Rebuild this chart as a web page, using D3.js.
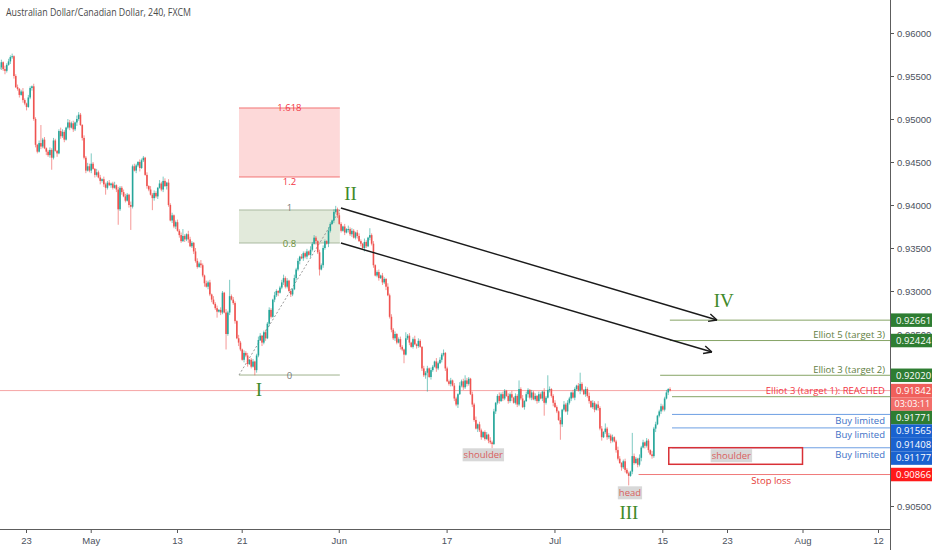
<!DOCTYPE html>
<head>
<meta charset="utf-8">
<style>
body { margin: 0; background: #fff; }
svg { display: block; font-family: "Open Sans", sans-serif; }
.tick text { fill: #4c525e; font-size: 9.5px; }
.tick line { stroke: #555; }
</style>
</head>
<body>
<div class="chart"></div>

<script src="https://d3js.org/d3.v7.min.js"></script>
<script>
// AUD/CAD 4h closes in pips (x 0.0001), Apr 18 -> Jul 16
const closes = [
    9560, 9566, 9558, 9556, 9563, 9567, 9572, 9573, 9550, 9537,
    9535, 9528, 9532, 9522, 9518, 9514, 9525, 9536, 9538, 9500,
    9470, 9462, 9472, 9468, 9476, 9466, 9462, 9458, 9464, 9455,
    9475, 9463, 9460, 9486, 9480, 9485, 9476, 9490, 9496, 9490,
    9495, 9488, 9496, 9500, 9505, 9493, 9478, 9455, 9440, 9445,
    9440, 9448, 9442, 9435, 9438, 9432, 9428, 9430, 9424, 9420,
    9426, 9423, 9425, 9420, 9423, 9418, 9395, 9420, 9415, 9410,
    9405, 9412, 9400, 9398, 9445, 9440, 9446, 9450, 9443, 9452,
    9455, 9435, 9422, 9418, 9412, 9408, 9414, 9410, 9420, 9425,
    9418, 9428, 9422, 9426, 9400, 9382, 9388, 9375, 9380, 9370,
    9365, 9358, 9364, 9360, 9366, 9360, 9352, 9356, 9346, 9335,
    9328, 9332, 9330, 9318, 9309, 9305, 9310, 9296, 9290, 9285,
    9280, 9276, 9278, 9275, 9298, 9275, 9250, 9275, 9294, 9290,
    9286, 9265, 9245, 9240, 9232, 9220, 9228, 9225, 9215, 9220,
    9212, 9218, 9208, 9225, 9243, 9248, 9240, 9252, 9245, 9262,
    9278, 9270, 9290, 9295, 9300, 9298, 9304, 9310, 9315, 9305,
    9312, 9300, 9296, 9302, 9315, 9325, 9335, 9340, 9338, 9344,
    9340, 9346, 9342, 9348, 9355, 9362, 9358, 9345, 9325, 9330,
    9350, 9358, 9355, 9370, 9378, 9382, 9392, 9395, 9388, 9378,
    9370, 9375, 9368, 9372, 9372, 9366, 9370, 9362, 9368, 9364,
    9358, 9355, 9350, 9357, 9352, 9362, 9365, 9355, 9330, 9318,
    9322, 9315, 9318, 9310, 9314, 9305, 9295, 9270, 9255, 9245,
    9250, 9240, 9244, 9235, 9232, 9226, 9245, 9248, 9240, 9235,
    9244, 9238, 9236, 9242, 9235, 9210, 9202, 9205, 9210, 9200,
    9208, 9212, 9218, 9210, 9216, 9220, 9226, 9228, 9210, 9195,
    9192, 9196, 9190, 9175, 9168, 9180, 9190, 9195, 9188, 9196,
    9192, 9198, 9180, 9168, 9150, 9140, 9145, 9138, 9130, 9136,
    9128, 9133, 9126, 9124, 9122, 9160, 9170, 9178, 9172, 9180,
    9175, 9184, 9178, 9172, 9180, 9176, 9170, 9178, 9168, 9186,
    9175, 9165, 9172, 9180, 9185, 9176, 9182, 9174, 9178, 9172,
    9180, 9175, 9183, 9170, 9176, 9185, 9186, 9178, 9170, 9165,
    9160, 9150, 9145, 9162, 9168, 9160, 9170, 9175, 9182, 9176,
    9186, 9190, 9184, 9192, 9185, 9180, 9186, 9178, 9172, 9165,
    9170, 9162, 9168, 9164, 9140, 9130, 9136, 9140, 9130, 9132,
    9126, 9130, 9125, 9115, 9105, 9100, 9095, 9102, 9092, 9088,
    9085, 9090, 9108, 9100, 9105, 9098, 9106, 9118, 9124, 9120,
    9126, 9115, 9110, 9108, 9140, 9145, 9155, 9160, 9166, 9162,
    9175, 9182, 9186, 9184.2
];
const firstOpen = 9558;
// wick lengths in pips, one base-36 character per bar
const wickUp = "2314232312 3124213213 213l231232 3212432143 2314321324 3c21423132 2312413223 3214232132 " +
               "2131423214 2531423123 2382143214 3242132314 23132142j2 3214213231 2312431232 3214212342 " +
               "3121423132 2314232132 3214213423 2131423213 3214218231 2313214232 3123217231 2413213231 " +
               "3214232412 2313214236 3213241321 2314231242 321324132a 2413213231 32142h3123 2131423213 " +
               "213d213241 3214231623 2312431232 21r3214231 3214231232 2312";
const wickDown = "1324213231 2313241232 321321423e 2141323123 1324213231 2313214238 213213i231 213r213241 " +
                 "21321e3231 2314213231 3213241232 2132413231 271321i231 2314213231 2163214231 3213241232 " +
                 "2132132413 2313214271 3214213231 2131423123 1324213231 2313241232 32132a1231 21321324m1 " +
                 "3214213231 2313241232 3213214231 2132513231 3213241232 2131423123 213f213241 21i3214231 " +
                 "3214213231 2313241232 3213214231 b132132413 2313241232 2131";

// trading-day index (Apr 22 2019 = 0) of the first bar, 6 bars per day
const firstBarDay = -1.45;
const tickDays = [1, 7, 15, 21, 30, 40, 50, 60, 66, 73, 80];
const tickLabels = ["23", "May", "13", "21", "Jun", "17", "Jul", "15", "23", "Aug", "12"];
const priceTicks = [0.905, 0.91, 0.915, 0.92, 0.925, 0.93, 0.935, 0.94, 0.945, 0.95, 0.955, 0.96];

// fibonacci retracement, anchored at wave I low and wave II high
const fibStart = 20.75, fibEnd = 30.1;
const fibLow = 0.92023, fibHigh = 0.93942;

const lastPrice = 0.91842;
const countdown = "03:03:11";

const levels = [
    {price: 0.92661, from: 60.7, kind: "green"},
    {price: 0.92424, from: 60.7, kind: "green", text: "Elliot 5 (target 3)"},
    {price: 0.92020, from: 59.8, kind: "green", text: "Elliot 3 (target 2)"},
    {price: 0.91771, from: 60.9, kind: "green", text: "Elliot 3 (target 1): REACHED", textKind: "red"},
    {price: 0.91565, from: 60.9, kind: "blue", text: "Buy limited"},
    {price: 0.91408, from: 60.9, kind: "blue", text: "Buy limited"},
    {price: 0.91177, from: 60.9, kind: "blue", text: "Buy limited"},
    {price: 0.90866, from: 57.8, kind: "stop"}
];

const waves = [
    {label: "I", day: 22.6, price: 0.91849},
    {label: "II", day: 31.1, price: 0.94128},
    {label: "III", day: 56.9, price: 0.90419},
    {label: "IV", day: 65.7, price: 0.92895}
];

const arrows = [
    {d0: 30.2, p0: 0.93965, d1: 65.07, p1: 0.92663},
    {d0: 30.2, p0: 0.93558, d1: 64.6, p1: 0.92291}
];

const colors = {
    up: "#26a69a", down: "#ef5350",
    green: "#2e7d32", greenLine: "#86a466", greenText: "#5f803f",
    blue: "#1a62cf", blueLine: "#6d9fe3", blueText: "#3b6fc6",
    red: "#f23645", stop: "#ff1a1a", stopLine: "#f07a7a",
    last: "#f05f5b", timer: "#f26e6a"
};

const width = 932, height = 550;
const plotRight = 890, plotBottom = 529;

const x = d3.scaleLinear().domain([1, 80]).range([26, 878]);
const y = d3.scaleLinear().domain([0.905, 0.96]).range([506, 33]);

const svg = d3.select(".chart").append("svg")
    .attr("width", width)
    .attr("height", height);

svg.append("defs").append("clipPath").attr("id", "plot")
    .append("rect").attr("width", plotRight).attr("height", plotBottom);

const plot = svg.append("g").attr("clip-path", "url(#plot)");

// ---- fib boxes
const fibY = r => y(fibLow + (fibHigh - fibLow) * r);
plot.append("rect")
    .attr("x", x(fibStart)).attr("width", x(fibEnd) - x(fibStart))
    .attr("y", fibY(1.618)).attr("height", fibY(1.2) - fibY(1.618))
    .attr("fill", "#fdd9d9");
plot.append("rect")
    .attr("x", x(fibStart)).attr("width", x(fibEnd) - x(fibStart))
    .attr("y", fibY(1)).attr("height", fibY(0.8) - fibY(1))
    .attr("fill", "#e2eadb");
const fibLevels = [
    {r: 1.618, line: "#f27373", text: "#f23645", dy: 3.5},
    {r: 1.2, line: "#f27373", text: "#f23645", dy: 8},
    {r: 1, line: "#a9b9a0", text: "#7a7a7a", dy: 1},
    {r: 0.8, line: "#a9b9a0", text: "#6b8f3a", dy: 4},
    {r: 0, line: "#9fb38e", text: "#7a7a7a", dy: 4}
];
fibLevels.forEach(function(f) {
    plot.append("line")
        .attr("x1", x(fibStart)).attr("x2", x(fibEnd))
        .attr("y1", fibY(f.r)).attr("y2", fibY(f.r))
        .attr("stroke", f.line).attr("stroke-width", 1);
    plot.append("text")
        .attr("x", (x(fibStart) + x(fibEnd)) / 2)
        .attr("y", fibY(f.r) + f.dy)
        .attr("text-anchor", "middle")
        .attr("font-size", "9.5px")
        .attr("fill", f.text)
        .text(String(f.r));
});
plot.append("line")
    .attr("x1", x(fibStart)).attr("y1", y(fibLow))
    .attr("x2", x(fibEnd)).attr("y2", y(fibHigh))
    .attr("stroke", "#9a9a9a").attr("stroke-width", 1)
    .attr("stroke-dasharray", "2,2");

// ---- last price line
plot.append("line")
    .attr("x1", 0).attr("x2", plotRight)
    .attr("y1", y(lastPrice)).attr("y2", y(lastPrice))
    .attr("stroke", "#f6a5a5").attr("stroke-width", 1);

// ---- candles
const wu = wickUp.replace(/ /g, "").split("").map(c => parseInt(c, 36));
const wd = wickDown.replace(/ /g, "").split("").map(c => parseInt(c, 36));
const bars = closes.map(function(c, i) {
    const o = i ? closes[i - 1] : firstOpen;
    return {
        day: firstBarDay + i / 6,
        o: o / 10000, c: c / 10000,
        h: (Math.max(o, c) + (wu[i] || 0)) / 10000,
        l: (Math.min(o, c) - (wd[i] || 0)) / 10000
    };
});

const candle = plot.selectAll(".candle")
    .data(bars)
    .enter()
    .append("g")
        .attr("class", "candle");
candle.append("line")
    .attr("x1", d => x(d.day)).attr("x2", d => x(d.day))
    .attr("y1", d => y(d.h)).attr("y2", d => y(d.l))
    .attr("stroke", d => d.c >= d.o ? colors.up : colors.down)
    .attr("stroke-opacity", 0.6)
    .attr("stroke-width", 1);
candle.append("rect")
    .attr("x", d => x(d.day) - 0.8)
    .attr("width", 1.6)
    .attr("y", d => y(Math.max(d.o, d.c)))
    .attr("height", d => Math.max(1, Math.abs(y(d.o) - y(d.c))))
    .attr("fill", d => d.c >= d.o ? colors.up : colors.down);

// ---- target / buy / stop levels
levels.forEach(function(l) {
    const stroke = l.kind === "blue" ? colors.blueLine : l.kind === "stop" ? colors.stopLine : colors.greenLine;
    plot.append("line")
        .attr("x1", x(l.from)).attr("x2", plotRight)
        .attr("y1", y(l.price)).attr("y2", y(l.price))
        .attr("stroke", stroke).attr("stroke-width", 1);
    if (l.text) {
        const below = l.kind === "blue";
        const fill = l.textKind === "red" ? colors.red : l.kind === "blue" ? colors.blueText : colors.greenText;
        plot.append("text")
            .attr("x", 885)
            .attr("y", y(l.price) + (below ? 9.8 : -2.5))
            .attr("text-anchor", "end")
            .attr("font-size", "9.5px")
            .attr("fill", fill)
            .text(l.text);
    }
});
plot.append("text")
    .attr("x", x(70.1)).attr("y", y(0.90866) + 9)
    .attr("text-anchor", "middle")
    .attr("font-size", "9.5px")
    .attr("fill", "#e53935")
    .text("Stop loss");

// shoulder box on the right
plot.append("rect")
    .attr("x", x(60.6)).attr("width", x(73) - x(60.6))
    .attr("y", y(0.91178)).attr("height", y(0.90985) - y(0.91178))
    .attr("fill", "none").attr("stroke", "#d93036").attr("stroke-width", 1.5);

function tag(day, price, text) {
    const t = plot.append("text")
        .attr("x", x(day)).attr("y", y(price) + 3.3)
        .attr("text-anchor", "middle")
        .attr("font-size", "9.5px")
        .attr("fill", "#d9605e")
        .text(text);
    const b = t.node().getBBox();
    plot.insert("rect", function() { return t.node(); })
        .attr("x", b.x - 1).attr("y", b.y)
        .attr("width", b.width + 2).attr("height", b.height)
        .attr("fill", "#d8d8d8");
}
tag(43.4, 0.91093, "shoulder");
tag(57.0, 0.90651, "head");
tag(66.4, 0.91082, "shoulder");

// ---- arrows
arrows.forEach(function(a) {
    const x0 = x(a.d0), y0 = y(a.p0), x1 = x(a.d1), y1 = y(a.p1);
    const ang = Math.atan2(y1 - y0, x1 - x0);
    const hl = 9;
    plot.append("line")
        .attr("x1", x0).attr("y1", y0).attr("x2", x1).attr("y2", y1)
        .attr("stroke", "#1b1b1b").attr("stroke-width", 1.4);
    [-0.45, 0.45].forEach(function(da) {
        plot.append("line")
            .attr("x1", x1).attr("y1", y1)
            .attr("x2", x1 - hl * Math.cos(ang + da))
            .attr("y2", y1 - hl * Math.sin(ang + da))
            .attr("stroke", "#1b1b1b").attr("stroke-width", 1.4);
    });
});

// ---- wave labels
plot.selectAll(".wave")
    .data(waves)
    .enter()
    .append("text")
        .attr("class", "wave")
        .attr("x", d => x(d.day))
        .attr("y", d => y(d.price) + 6.5)
        .attr("text-anchor", "middle")
        .attr("font-family", "'Liberation Serif', serif")
        .attr("font-size", "19px")
        .attr("fill", "#3f8a2a")
        .text(d => d.label);

// ---- price scale labels, stacked so they don't overlap
const priceLabels = [
    {price: 0.92661, text: "0.92661", fill: colors.green},
    {price: 0.92424, text: "0.92424", fill: colors.green},
    {price: 0.92020, text: "0.92020", fill: colors.green},
    {price: lastPrice, text: "0.91842", fill: colors.last},
    {price: lastPrice, text: countdown, fill: colors.timer},
    {price: 0.91771, text: "0.91771", fill: colors.green},
    {price: 0.91565, text: "0.91565", fill: colors.blue},
    {price: 0.91408, text: "0.91408", fill: colors.blue},
    {price: 0.91177, text: "0.91177", fill: colors.blue},
    {price: 0.90866, text: "0.90866", fill: colors.stop}
];
const boxH = 13.5;
let prevY = -Infinity;
priceLabels.forEach(function(p) {
    p.y = Math.max(y(p.price), prevY + boxH);
    prevY = p.y;
});

// ---- axes
const xAxis = d3.axisBottom(x)
    .tickValues(tickDays)
    .tickFormat((d, i) => tickLabels[i])
    .tickSize(4)
    .tickPadding(4);
svg.append("g")
    .attr("transform", "translate(0," + plotBottom + ")")
    .call(xAxis)
    .call(g => g.select(".domain").remove());

// ticks sitting right under a label box are covered on the original
const visibleTicks = priceTicks.filter(t => !priceLabels.some(p => Math.abs(p.y - y(t)) < 5));
const yAxis = d3.axisRight(y)
    .tickValues(visibleTicks)
    .tickFormat(d3.format(".5f"))
    .tickSize(4)
    .tickPadding(3);
svg.append("g")
    .attr("transform", "translate(" + plotRight + ",0)")
    .call(yAxis)
    .call(g => g.select(".domain").remove());

svg.append("line")
    .attr("x1", 0).attr("x2", plotRight)
    .attr("y1", plotBottom + 0.5).attr("y2", plotBottom + 0.5)
    .attr("stroke", "#5d5d5d");
svg.append("line")
    .attr("x1", plotRight + 0.5).attr("x2", plotRight + 0.5)
    .attr("y1", 0).attr("y2", height)
    .attr("stroke", "#5d5d5d");

const pl = svg.selectAll(".plabel")
    .data(priceLabels)
    .enter()
    .append("g")
        .attr("class", "plabel")
        .attr("transform", d => "translate(" + (plotRight + 1) + "," + d.y + ")");
pl.append("rect")
    .attr("x", 0).attr("y", -boxH / 2)
    .attr("width", width - plotRight - 1).attr("height", boxH)
    .attr("fill", d => d.fill);
pl.append("text")
    .attr("x", d => d.text === countdown ? 3.5 : 5)
    .attr("y", 3.4)
    .attr("font-size", d => d.text === countdown ? "9px" : "9.5px")
    .attr("fill", "#fff")
    .text(d => d.text);

// ---- title
svg.append("text")
    .attr("x", 6).attr("y", 16)
    .attr("font-size", "10.5px")
    .attr("fill", "#4a4a4a")
    .attr("textLength", 185)
    .attr("lengthAdjust", "spacingAndGlyphs")
    .text("Australian Dollar/Canadian Dollar, 240, FXCM");
</script>
</body>
